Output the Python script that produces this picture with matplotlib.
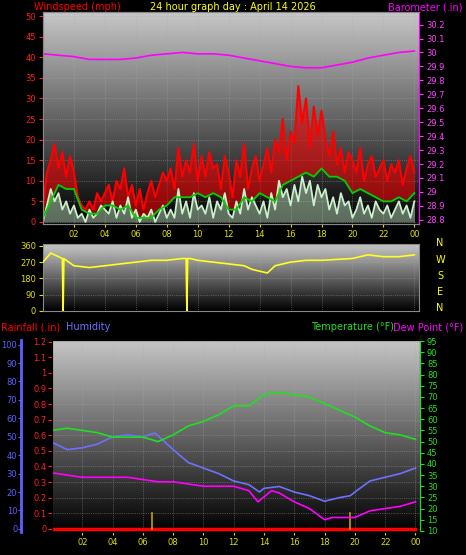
import numpy as np
import matplotlib
matplotlib.use("Agg")
import matplotlib.pyplot as plt

W, H = 466, 555
# ---- data ----
gust = [4,12,15,19,13,17,11,16,12,
        6,4,3,5,3,7,5,7, 9,5,10,8,13,6,9,4, 8,3,7,10,6,9,12,10,
        13,8,18,11,15,12,19,10, 16,11,17,13,14,8,16,12, 6,15,11,19,8,13,16,10,
        14,18,12,20,17,25,15,22, 19,33,24,30,18,28,21,27, 20,16,22,14,18,12,17,15,
        12,18,10,14,16,11,13,15, 10,14,12,15,9,13,16,12]
speed = [0,4,8,5,7,3,5,2,4,
         1,2,0,3,1,2,4,3, 2,5,1,4,2,6,1,3, 0,2,1,3,0,2,4,1,
         3,1,8,2,5,1,7,3, 4,2,6,1,5,3,7,2, 1,5,2,8,3,6,4,2,
         5,1,7,3,10,6,8,4, 9,5,11,7,10,4,9,6, 8,3,6,2,7,4,5,1,
         3,6,2,4,1,5,3,2, 4,1,3,5,2,4,1,5]
avg_h = [0,0.5,1,1.5,2,2.5,3,3.5,4,4.5,5,5.5,6,7,7.5,8,8.5,9,9.5,10,10.5,11,11.5,12,12.5,13,13.5,14,14.5,15,15.5,16,16.5,17,17.5,18,18.5,19,19.5,20,20.5,21,21.5,22,22.5,23,23.5,24]
avg = [1,5,9,8,8,3,2,2,4,4,3,4,1,1,3,4,6,6,6,7,6,7,6,3,3,6,5,7,6,5,9,10,11,12,11,13,11,11,10,7,8,7,6,5,5,6,5,7]
hours = list(range(25))
baro = [29.99,29.98,29.97,29.95,29.95,29.95,29.96,29.98,29.99,30.00,29.99,29.99,29.98,29.96,29.94,29.92,29.90,29.89,29.89,29.91,29.93,29.96,29.98,30.00,30.01]
dir_h = [0,0.5,1,1.25,1.3,1.35,1.5,2,3,4,5,6,7,8,9,9.25,9.3,9.35,9.5,10,11,12,13,13.5,14,14.5,15,16,17,18,19,20,21,22,23,24]
dirv = [270,320,300,290,0,290,280,250,240,250,260,270,280,280,290,290,0,290,290,280,270,260,250,230,220,210,250,270,280,280,285,290,310,300,300,310]
hum_h = [0,1,2,3,4,5,6,6.8,8,9,10,11,12,13,13.7,14,15,16,17,18,19,19.7,20,21,22,23,24]
hum = [47,43,44,46,50,51,50,52,43,36,33,30,26,24,20,22,23,20,18,15,17,18,20,26,28,30,33]
temp = [55,56,55,54,52,52,52,50,53,57,59,62,66,66,71,72,71,70,67,64,61,57,54,53,51]
dew_h = [0,1,2,3,4,5,6,7,8,9,10,11,12,13,13.6,14.5,15,16,17,18,18.5,19,20,21,22,23,24]
dew = [36,35,34,34,34,34,33,32,32,31,30,30,30,28,23,28,27,23,20,15,16,16,16,19,20,21,23]
rain_h = [0,24]
rain = [0,0]
marks = [6.6,19.7]
xt = [2,4,6,8,10,12,14,16,18,20,22,24]
xtl = ["02","04","06","08","10","12","14","16","18","20","22","00"]

fig = plt.figure(figsize=(W/100, H/100), dpi=100, facecolor="black")
def ax_px(l, t, r, b):
    return fig.add_axes([l/W, 1-b/H, (r-l)/W, (b-t)/H])
grad = np.linspace(0.78, 0.0, 256).reshape(-1, 1)
def bg(ax):
    ax.set_facecolor("black")
    ax.imshow(grad, aspect="auto", cmap="gray", vmin=0, vmax=1,
              extent=[0, 1, 0, 1], transform=ax.transAxes, zorder=0)
    ax.grid(True, color="#aaaaaa", ls=":", lw=0.5, alpha=0.7, zorder=1)
    for s in ax.spines.values():
        s.set_color("#888888")
fs = 6
# ---- top ----
a1 = ax_px(43, 12, 419, 224)
bg(a1)
gx = np.arange(len(gust))*0.25
a1.fill_between(gx, np.interp(gx, avg_h, avg), gust, color="#ff0000", alpha=0.55, lw=0, zorder=2)
a1.plot(gx, gust, color="#ff0000", lw=1.5, zorder=2)
a1.fill_between(gx, 0, speed, color="#ccf0cc", alpha=0.45, lw=0, zorder=3)
a1.plot(gx, speed, color="#ccf0cc", lw=1.3, zorder=3)
a1.plot(avg_h, avg, color="#00d000", lw=1.3, zorder=4)
a1.set_xlim(0, 24.3); a1.set_ylim(-0.5, 51)
a1.set_yticks(range(0, 51, 5))
a1.tick_params(axis="y", colors="#ff2020", labelsize=fs, length=3, pad=2)
a1.set_xticks(xt); a1.set_xticklabels(xtl)
a1.tick_params(axis="x", colors="#e0e000", labelsize=fs, length=2, pad=2)
b1 = a1.twinx()
b1.plot(hours, baro, color="#ff00ff", lw=1.2)
b1.set_ylim(28.77, 30.29)
bt = np.round(np.arange(28.8, 30.25, 0.1), 1)
b1.set_yticks(bt); b1.set_yticklabels([f"{v:g}" for v in bt])
b1.tick_params(axis="y", colors="#ff40ff", labelsize=fs, length=3, pad=2)
for s in b1.spines.values(): s.set_color("#888888")
b1.spines["right"].set_color("#ff00ff")
tfs = 7
fig.text(34/W, 1-7/H, "Windspeed (mph)", color="#ff0000", fontsize=tfs, va="center")
fig.text(0.5, 1-7/H, "24 hour graph day : April 14 2026", color="#ffff00", fontsize=tfs, va="center", ha="center")
fig.text(462/W, 1-7/H, "Barometer (.in)", color="#ff00ff", fontsize=tfs, va="center", ha="right")
# ---- middle ----
a2 = ax_px(43, 244, 419, 311)
bg(a2)
a2.plot(dir_h, dirv, color="#ffff20", lw=1.2, zorder=3)
a2.set_xlim(0, 24.3); a2.set_ylim(0, 370)
a2.set_yticks([0, 90, 180, 270, 360]); a2.set_xticks(xt); a2.set_xticklabels([])
a2.tick_params(axis="y", colors="#e0e000", labelsize=fs, length=3, pad=2)
a2.tick_params(axis="x", length=0)
for lab, y in zip("NWSEN", [243, 260, 276, 292, 308]):
    fig.text(440/W, 1-y/H, lab, color="#ffff00", fontsize=7, ha="center", va="center")
# ---- bottom ----
a3 = ax_px(52, 340, 420, 532)
bg(a3)
a3.set_xlim(0, 24.3); a3.set_ylim(-0.02, 1.21)
a3.plot(rain_h, rain, color="#ff0000", lw=2.5, zorder=4)
for m in marks:
    a3.plot([m, m], [0, 0.1], color="#c0a000", lw=1.2, zorder=4)
rt = np.round(np.arange(0, 1.21, 0.1), 1)
a3.set_yticks(rt); a3.set_yticklabels([f"{v:g}" for v in rt])
a3.tick_params(axis="y", colors="#ff2020", labelsize=fs, length=3, pad=1)
a3.spines["left"].set_color("#ff4040"); a3.spines["left"].set_linestyle(":")
a3.set_xticks(xt); a3.set_xticklabels(xtl)
a3.tick_params(axis="x", colors="#e0e000", labelsize=fs, length=2, pad=2)
h3 = a3.twinx()
h3.plot(hum_h, hum, color="#7070ff", lw=1.2)
h3.set_ylim(-1.7, 102.5)
h3.yaxis.set_ticks_position("left"); h3.yaxis.set_label_position("left")
h3.spines["left"].set_position(("outward", 22)); h3.spines["left"].set_color("#6060ff")
h3.spines["left"].set_linewidth(2)
h3.set_yticks(range(0, 101, 10))
h3.tick_params(axis="y", colors="#6060ff", labelsize=fs, length=2, pad=1)
t3 = a3.twinx()
t3.plot(hours, temp, color="#20e020", lw=1.2)
t3.plot(dew_h, dew, color="#ff00ff", lw=1.2)
t3.set_ylim(9.5, 95.5)
t3.set_yticks(range(10, 96, 5))
t3.tick_params(axis="y", colors="#20e020", labelsize=fs, length=3, pad=2)
t3.spines["right"].set_color("#20e020")
fig.text(1/W, 1-327/H, "Rainfall (.in)", color="#ff0000", fontsize=tfs, va="center")
fig.text(66/W, 1-327/H, "Humidity", color="#7070ff", fontsize=tfs, va="center")
fig.text(394/W, 1-327/H, "Temperature (°F)", color="#20e020", fontsize=tfs, va="center", ha="right")
fig.text(463/W, 1-327/H, "Dew Point (°F)", color="#ff00ff", fontsize=tfs, va="center", ha="right")
fig.savefig("out.png", dpi=100, facecolor="black")
